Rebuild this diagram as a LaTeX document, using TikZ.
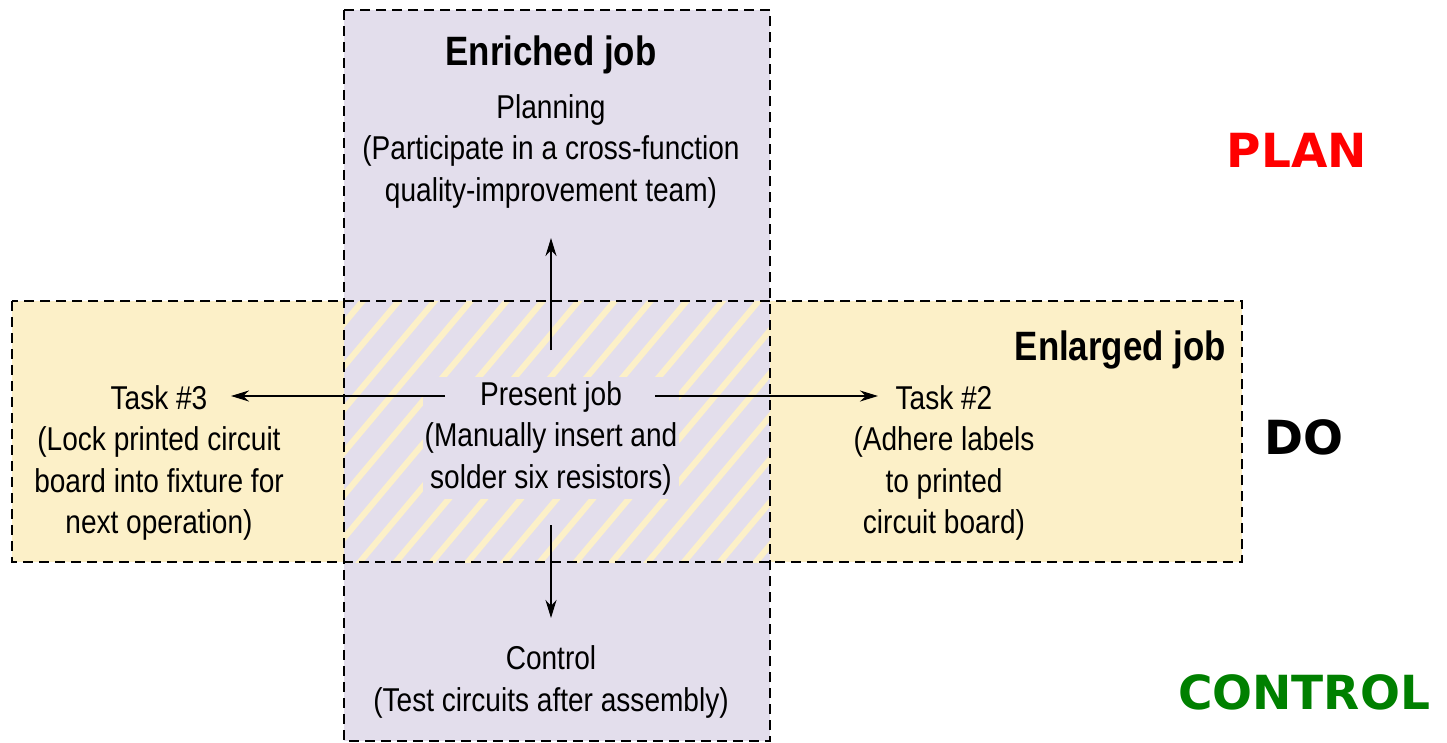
\documentclass[tikz,border=0pt]{standalone}
\usepackage{fontspec}
\setmainfont{Liberation Sans}[FakeStretch=0.85]
\newfontfamily\pdcfont{DejaVu Sans}
\usetikzlibrary{arrows.meta}
\definecolor{enrich}{HTML}{E3DEEC}
\definecolor{enlarge}{HTML}{FCF0C8}
\definecolor{ctrlgreen}{HTML}{008000}
\begin{document}
\begin{tikzpicture}[x=1pt,y=-1pt,
  boxline/.style={draw=black, line width=2.5pt, dash pattern=on 10pt off 6pt},
  txt/.style={align=center, font=\fontsize{33}{41.5}\selectfont, inner sep=4pt},
  ttl/.style={font=\fontsize{41}{45}\selectfont\bfseries, inner sep=0pt},
  pdc/.style={font=\fontsize{47}{50}\selectfont\pdcfont\bfseries, inner sep=0pt},
  arr/.style={-{Stealth[length=18pt,width=11pt]}, line width=2.2pt}]
\useasboundingbox (0,0) rectangle (1447,742);
% fills
\fill[enrich] (344,10) rectangle (770,741);
\fill[enlarge] (12,301) rectangle (1242,562);
\fill[enrich] (344,301) rectangle (770,562);
% hatched overlap
\begin{scope}
  \clip (344,301) rectangle (770,562);
  \foreach \x in {40,76,...,800} \draw[enlarge, line width=6pt] (\x,600) -- (\x+285,260);
\end{scope}
% borders
\draw[boxline] (12,301) rectangle (1242,562);
\draw[boxline] (344,10) rectangle (770,741);
% texts
\node[ttl] (enriched) at (551,55) {Enriched job};
\node[txt] (planning) at (551,151) {Planning\\(Participate in a cross-function\\quality-improvement team)};
\node[txt, fill=enrich, inner xsep=2pt] (present) at (551,438) {Present job\\(Manually insert and\\solder six resistors)};
\node[txt] (task3) at (159,463) {Task \#3\\(Lock printed circuit\\board into fixture for\\next operation)};
\node[txt] (task2) at (944,463) {Task \#2\\(Adhere labels\\to printed\\circuit board)};
\node[txt] (control) at (551,682) {Control\\(Test circuits after assembly)};
\node[ttl, anchor=east] (enlarged) at (1226,350) {Enlarged job};
\node[pdc, text=red] (lplan) at (1297,150) {PLAN};
\node[pdc] (ldo) at (1304,437) {DO};
\node[pdc, text=ctrlgreen] (lcontrol) at (1304,692) {CONTROL};
% arrows
\coordinate (upS) at (551,350);   \coordinate (upE) at (551,238);
\coordinate (dnS) at (551,525);   \coordinate (dnE) at (551,618);
\coordinate (ltS) at (445,396);   \coordinate (ltE) at (231,396);
\coordinate (rtS) at (655,396);   \coordinate (rtE) at (878,396);
\draw[arr] (upS) -- (upE);
\draw[arr] (dnS) -- (dnE);
\draw[arr] (ltS) -- (ltE);
\draw[arr] (rtS) -- (rtE);
\end{tikzpicture}
\end{document}
